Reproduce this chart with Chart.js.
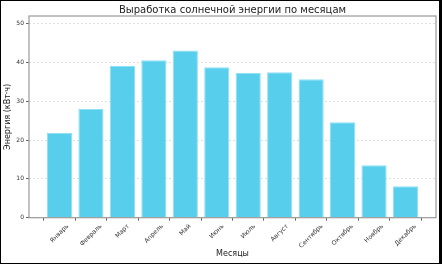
<!DOCTYPE html>
<html>
<head>
<meta charset="utf-8">
<script src="https://cdn.jsdelivr.net/npm/chart.js@4"></script>
<style>
  html, body { margin: 0; padding: 0; background: #000; width: 442px; height: 264px; overflow: hidden; }
  #wrap { position: absolute; left: 1px; top: 1px; width: 438px; height: 262px; background: #fff; }
  canvas { display: block; }
</style>
</head>
<body>
<div id="wrap"><canvas id="c" width="438" height="262"></canvas></div>
<script>
const months = ['Январь','Февраль','Март','Апрель','Май','Июнь','Июль','Август','Сентябрь','Октябрь','Ноябрь','Декабрь'];
const energy = [21.9, 28.0, 39.1, 40.6, 43.1, 38.8, 37.3, 37.5, 35.7, 24.6, 13.5, 8.1];
const yTicks = [0, 10, 20, 30, 40, 50];
const titleText = 'Выработка солнечной энергии по месяцам';
const xTitle = 'Месяцы';
const yTitle = 'Энергия (кВт·ч)';

const FONT = "'DejaVu Sans', sans-serif";

const framePlugin = {
  id: 'frame',
  afterDraw(chart) {
    const {ctx, chartArea: a} = chart;
    const xs = chart.scales.x;
    ctx.save();
    // spines
    ctx.setLineDash([]);
    ctx.strokeStyle = '#9a9a9a';
    ctx.lineWidth = 1.2;
    ctx.strokeRect(a.left, a.top, a.right - a.left, a.bottom - a.top);
    // title centred over the axes
    ctx.fillStyle = '#222';
    ctx.font = '10px ' + FONT;
    ctx.textAlign = 'center';
    ctx.textBaseline = 'middle';
    ctx.fillText(titleText, (a.left + a.right) / 2, 9);
    // rotated category labels, centred under ticks
    ctx.fillStyle = '#333';
    ctx.font = '6.2px ' + FONT;
    const h = 6;
    const top = a.bottom + 5.5;
    months.forEach((m, i) => {
      const x = xs.getPixelForValue(i);
      const w = ctx.measureText(m).width;
      const cy = top + (w + h) * Math.SQRT1_2 / 2;
      ctx.save();
      ctx.translate(x, cy);
      ctx.rotate(-Math.PI / 4);
      ctx.fillText(m, 0, 0);
      ctx.restore();
    });
    ctx.restore();
  }
};

new Chart(document.getElementById('c'), {
  type: 'bar',
  data: {
    labels: months,
    datasets: [{
      data: energy,
      backgroundColor: '#57cfec',
      borderColor: '#8fe0f4',
      borderWidth: 1,
      categoryPercentage: 0.8,
      barPercentage: 1.0
    }]
  },
  options: {
    responsive: false,
    animation: false,
    layout: { padding: { left: 0, right: 3, top: 15, bottom: 0 } },
    plugins: {
      legend: { display: false },
      tooltip: { enabled: false },
      title: { display: false }
    },
    scales: {
      x: {
        offset: true,
        grid: { display: true, drawOnChartArea: false, drawTicks: true, tickLength: 3, tickColor: '#666', tickWidth: 1 },
        border: { display: false },
        ticks: { color: 'rgba(0,0,0,0)', font: { family: FONT, size: 6 }, maxRotation: 45, minRotation: 45, autoSkip: false },
        title: { display: true, text: xTitle, color: '#222', font: { family: FONT, size: 8 }, padding: { top: 0, bottom: 4 } },
        afterBuildTicks(s) {
          s._startValue = -0.97;
          s._valueRange = months.length - 1 + 1.94;
        },
        afterFit(s) { s.height = 45.3; }
      },
      y: {
        min: 0,
        max: 52,
        ticks: { stepSize: 10, color: '#333', font: { family: FONT, size: 6 }, padding: 2 },
        afterBuildTicks(s) { s.ticks = yTicks.map(v => ({ value: v })); },
        grid: { color: '#d8d8d8', lineWidth: 0.8, tickLength: 3, tickColor: '#666', tickBorderDash: [], tickWidth: 1 },
        border: { display: false, dash: [2, 2] },
        title: { display: true, text: yTitle, color: '#222', font: { family: FONT, size: 8 }, padding: { top: 2, bottom: 0 } },
        afterFit(s) { s.width = 28; }
      }
    }
  },
  plugins: [framePlugin]
});
</script>
</body>
</html>
